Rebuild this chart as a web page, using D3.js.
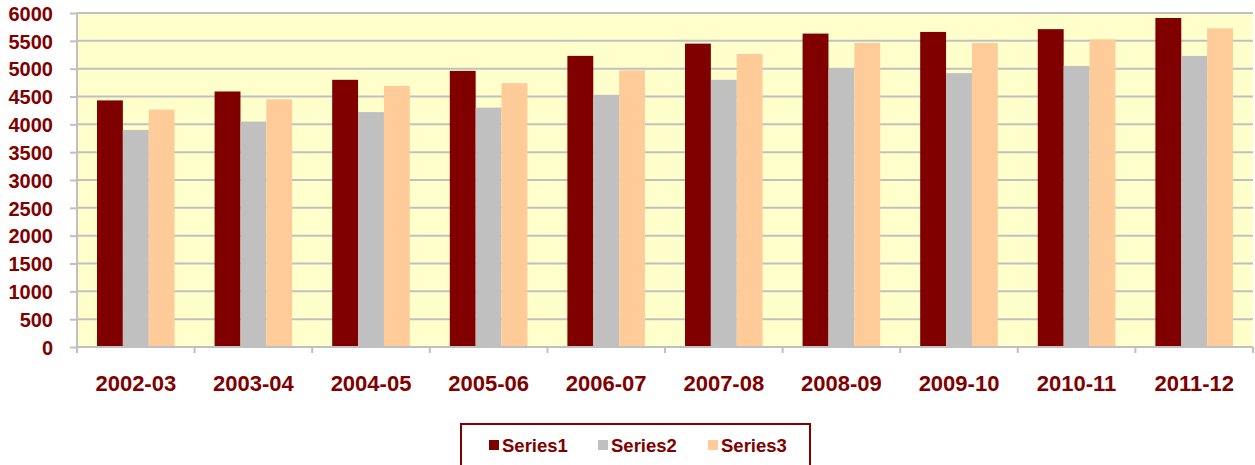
<!DOCTYPE html>
<html>
<head>
<meta charset="utf-8">
<script src="https://cdn.jsdelivr.net/npm/d3@7"></script>
<style>
  body { margin: 0; background: #fff; }
  text { font-family: Arial, "Liberation Sans", sans-serif; font-weight: bold; fill: #800000; }
</style>
</head>
<body>
<div id="chart"></div>
<script>
// Data
var years = ["2002-03", "2003-04", "2004-05", "2005-06", "2006-07", "2007-08", "2008-09", "2009-10", "2010-11", "2011-12"];
var series1 = [4430, 4590, 4800, 4960, 5230, 5450, 5630, 5660, 5710, 5910];
var series2 = [3900, 4050, 4220, 4300, 4530, 4800, 5010, 4920, 5050, 5230];
var series3 = [4265, 4450, 4690, 4740, 4970, 5265, 5460, 5460, 5525, 5725];
var seriesNames = ["Series1", "Series2", "Series3"];
var yTicks = [0, 500, 1000, 1500, 2000, 2500, 3000, 3500, 4000, 4500, 5000, 5500, 6000];

var colors = ["#800000", "#c0c0c0", "#ffcc99"];

// Dimensions and margins
var margin = {top: 13, right: 2, bottom: 118, left: 77},
    width = 1255 - margin.left - margin.right,
    height = 465 - margin.top - margin.bottom;

var svg = d3.select("#chart")
    .append("svg")
    .attr("width", 1255)
    .attr("height", 465);

var g = svg.append("g")
    .attr("transform", "translate(" + margin.left + "," + margin.top + ")");

// Plot background
g.append("rect")
    .attr("width", width)
    .attr("height", height)
    .attr("fill", "#ffffcc");

// Scales
var x = d3.scaleBand()
    .domain(years)
    .range([0, width])
    .paddingInner(0.34)
    .paddingOuter(0.17);

var xSub = d3.scaleBand()
    .domain(seriesNames)
    .range([0, x.bandwidth()]);

var y = d3.scaleLinear()
    .domain([0, 6000])
    .range([height, 0]);

// Gridlines
g.selectAll("line.grid")
    .data(yTicks.slice(1))
    .enter()
    .append("line")
    .attr("class", "grid")
    .attr("x1", 0)
    .attr("x2", width)
    .attr("y1", function (d) { return y(d); })
    .attr("y2", function (d) { return y(d); })
    .attr("stroke", "#c0c0c0")
    .attr("stroke-width", 2);

// Bars
var rows = years.map(function (yr, i) {
    return {year: yr, values: [series1[i], series2[i], series3[i]]};
});

var groups = g.selectAll("g.layer")
    .data(rows)
    .enter()
    .append("g")
    .attr("class", "layer")
    .attr("transform", function (d) { return "translate(" + x(d.year) + ",0)"; });

groups.selectAll("rect")
    .data(function (d) {
        return seriesNames.map(function (key, i) { return {key: key, value: d.values[i], i: i}; });
    })
    .enter()
    .append("rect")
    .attr("x", function (d) { return xSub(d.key); })
    .attr("width", xSub.bandwidth())
    .attr("y", function (d) { return y(d.value); })
    .attr("height", function (d) { return height - y(d.value); })
    .attr("fill", function (d) { return colors[d.i]; });

// Y axis
var yAxis = g.append("g")
    .call(d3.axisLeft(y).tickValues(yTicks).tickSize(7).tickPadding(17).tickFormat(d3.format("d")));
yAxis.select(".domain").attr("stroke", "#c0c0c0").attr("stroke-width", 2)
    .attr("d", "M0," + height + "V0");
yAxis.selectAll(".tick line").attr("stroke", "#c0c0c0").attr("stroke-width", 2);
yAxis.selectAll("text")
    .style("font-size", "20px")
    .attr("dy", "0.36em")
    .attr("fill", "#800000");

// X axis
var xAxis = g.append("g")
    .attr("transform", "translate(0," + height + ")");
xAxis.append("line")
    .attr("x1", 0).attr("x2", width)
    .attr("stroke", "#c0c0c0").attr("stroke-width", 2);
var bounds = years.map(function (d) { return x(d) - x.step() * x.paddingInner() / 2; }).concat([width]);
xAxis.selectAll("line.xtick")
    .data(bounds)
    .enter()
    .append("line")
    .attr("class", "xtick")
    .attr("x1", function (d) { return d; })
    .attr("x2", function (d) { return d; })
    .attr("y1", 0).attr("y2", 6)
    .attr("stroke", "#c0c0c0").attr("stroke-width", 2);
xAxis.selectAll("text.xlab")
    .data(years)
    .enter()
    .append("text")
    .attr("class", "xlab")
    .attr("x", function (d) { return x(d) + x.bandwidth() / 2; })
    .attr("y", 44)
    .attr("text-anchor", "middle")
    .style("font-size", "22px")
    .text(function (d) { return d; });

// Legend
var legend = svg.append("g");
legend.append("rect")
    .attr("x", 461).attr("y", 424)
    .attr("width", 349).attr("height", 50)
    .attr("fill", "#fff")
    .attr("stroke", "#800000").attr("stroke-width", 2);
var legendX = [489, 598, 708];
seriesNames.forEach(function (name, i) {
    legend.append("rect")
        .attr("x", legendX[i]).attr("y", 440)
        .attr("width", 10).attr("height", 10)
        .attr("fill", colors[i]);
    legend.append("text")
        .attr("x", legendX[i] + 13).attr("y", 451.5)
        .style("font-size", "18.5px")
        .text(name);
});
</script>
</body>
</html>
